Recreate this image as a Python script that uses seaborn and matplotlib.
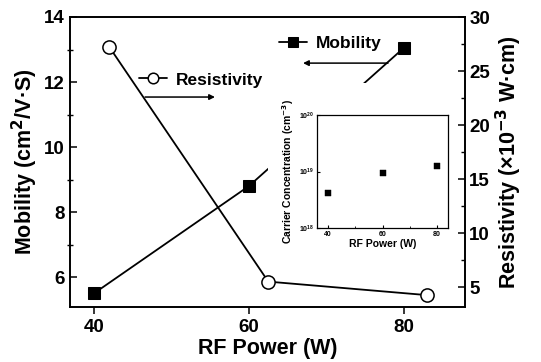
import matplotlib
matplotlib.use("Agg")
import matplotlib.pyplot as plt
import seaborn as sns
import pandas as pd
from matplotlib.patches import Rectangle
from matplotlib.ticker import MultipleLocator, LogLocator, NullLocator

sns.set_theme(style="white")
plt.rcParams['font.family'] = ['Liberation Sans', 'DejaVu Sans']
plt.rcParams['font.weight'] = 'bold'
plt.rcParams['mathtext.default'] = 'bf'
plt.rcParams['text.color'] = 'black'
plt.rcParams['axes.labelcolor'] = 'black'
plt.rcParams['xtick.color'] = 'black'
plt.rcParams['ytick.color'] = 'black'

# ---- data ----
mob_power = [40, 60, 80]
mobility = [5.5, 8.8, 13.05]
res_power = [42, 62.5, 83]
resistivity = [27.2, 5.5, 4.25]
inset_power = [40, 60, 80]
carrier_conc = [4.2e18, 9.4e18, 1.25e19]
x_ticks = [40, 60, 80]
left_ticks = [6, 8, 10, 12, 14]
right_ticks = [5, 10, 15, 20, 25, 30]

df_mob = pd.DataFrame({"power": mob_power, "mobility": mobility})
df_res = pd.DataFrame({"power": res_power, "resistivity": resistivity})
df_in = pd.DataFrame({"power": inset_power, "conc": carrier_conc})

W, H = 541, 362
fig = plt.figure(figsize=(W / 100, H / 100), dpi=100)
ax = fig.add_axes([70 / W, 1 - 307 / H, 395 / W, 290 / H])
ax2 = ax.twinx()

sns.lineplot(data=df_mob, x="power", y="mobility", ax=ax, color="black",
             marker="s", markersize=8.5, markeredgecolor="black", lw=1.3,
             label="Mobility", legend=False)
sns.lineplot(data=df_res, x="power", y="resistivity", ax=ax2, color="black",
             marker="o", markersize=9.5, markerfacecolor="white",
             markeredgecolor="black", markeredgewidth=1.1, lw=1.3,
             label="Resistivity", legend=False)

ax.set_xlim(36.9, 87.9)
ax.set_ylim(5.08, 14)
ax2.set_ylim(3.15, 30)
ax.set_xticks(x_ticks)
ax.set_yticks(left_ticks)
ax2.set_yticks(right_ticks)
ax.xaxis.set_minor_locator(MultipleLocator(10))
ax.yaxis.set_minor_locator(MultipleLocator(1))
ax2.yaxis.set_minor_locator(MultipleLocator(2.5))

for a in (ax, ax2):
    for s in a.spines.values():
        s.set_color("black")
        s.set_linewidth(1.2)
ax.tick_params(axis='x', which='major', direction='out', length=5, width=1.1,
               labelsize=13.5, pad=4, bottom=True)
ax.tick_params(axis='x', which='minor', length=0)
ax.tick_params(axis='y', which='major', direction='in', length=5, width=1.1,
               labelsize=13.5, left=True, pad=4)
ax.tick_params(axis='y', which='minor', direction='inout', length=5, width=1.0, left=True)
ax2.tick_params(axis='y', which='major', direction='in', length=5, width=1.1,
                labelsize=13.5, right=True, pad=3)
ax2.tick_params(axis='y', which='minor', direction='in', length=3, width=1.0, right=True)

ax.set_xlabel("RF Power (W)", fontsize=15.5, fontweight='bold', labelpad=1)
ax.set_ylabel("Mobility (cm$^2$/V·S)", fontsize=15.5, fontweight='bold', labelpad=3)
ax2.set_ylabel("Resistivity (×10$^{-3}$ W·cm)", fontsize=15.5, fontweight='bold', labelpad=3)

# legends
h1, l1 = ax.get_legend_handles_labels()
h2, l2 = ax2.get_legend_handles_labels()
leg1 = ax2.legend(h1, l1, loc='center left', bbox_to_anchor=(0.53, 0.91),
                  frameon=False, fontsize=12.5, handlelength=1.6, handletextpad=0.5,
                  borderpad=0, borderaxespad=0, markerscale=0.8)
ax2.add_artist(leg1)
ax2.legend(h2, l2, loc='center left', bbox_to_anchor=(0.175, 0.783),
           frameon=False, fontsize=12.5, handlelength=1.6, handletextpad=0.5,
           borderpad=0, borderaxespad=0, markerscale=0.8)

# arrows
ax2.annotate("", xy=(0.590, 0.841), xytext=(0.805, 0.841), xycoords='axes fraction',
             textcoords='axes fraction',
             arrowprops=dict(arrowstyle='-|>', color='black', lw=1.1,
                             mutation_scale=8, shrinkA=0, shrinkB=0))
ax2.annotate("", xy=(0.367, 0.724), xytext=(0.19, 0.724), xycoords='axes fraction',
             textcoords='axes fraction',
             arrowprops=dict(arrowstyle='-|>', color='black', lw=1.1,
                             mutation_scale=8, shrinkA=0, shrinkB=0))

# white cover behind inset
cover = Rectangle((268 / W, 1 - 262 / H), 190 / W, 179 / H, transform=fig.transFigure,
                  facecolor='white', edgecolor='none', zorder=5)
fig.add_artist(cover)

# inset
axin = fig.add_axes([317 / W, 1 - 228 / H, 131 / W, 113 / H], zorder=10)
sns.scatterplot(data=df_in, x="power", y="conc", ax=axin, marker="s", s=16,
                color="black", edgecolor="black", legend=False)
axin.set_yscale('log')
axin.set_ylim(1e18, 1e20)
axin.set_xlim(36, 84)
axin.set_xticks(x_ticks)
axin.xaxis.set_minor_locator(MultipleLocator(10))
axin.yaxis.set_major_locator(LogLocator(base=10, numticks=5))
axin.yaxis.set_minor_locator(NullLocator())
for s in axin.spines.values():
    s.set_color("black")
    s.set_linewidth(0.9)
axin.tick_params(axis='both', which='major', direction='in', length=2.5, width=0.8,
                 labelsize=5, pad=2, left=True, bottom=True)
axin.tick_params(axis='x', which='minor', direction='in', length=1.5, width=0.6,
                 bottom=True)
axin.set_xlabel("RF Power (W)", fontsize=7.5, fontweight='bold', labelpad=1)
axin.set_ylabel("Carrier Concentration (cm$^{-3}$)", fontsize=7.5, fontweight='bold',
                labelpad=2)

fig.savefig("out.png", dpi=100)
